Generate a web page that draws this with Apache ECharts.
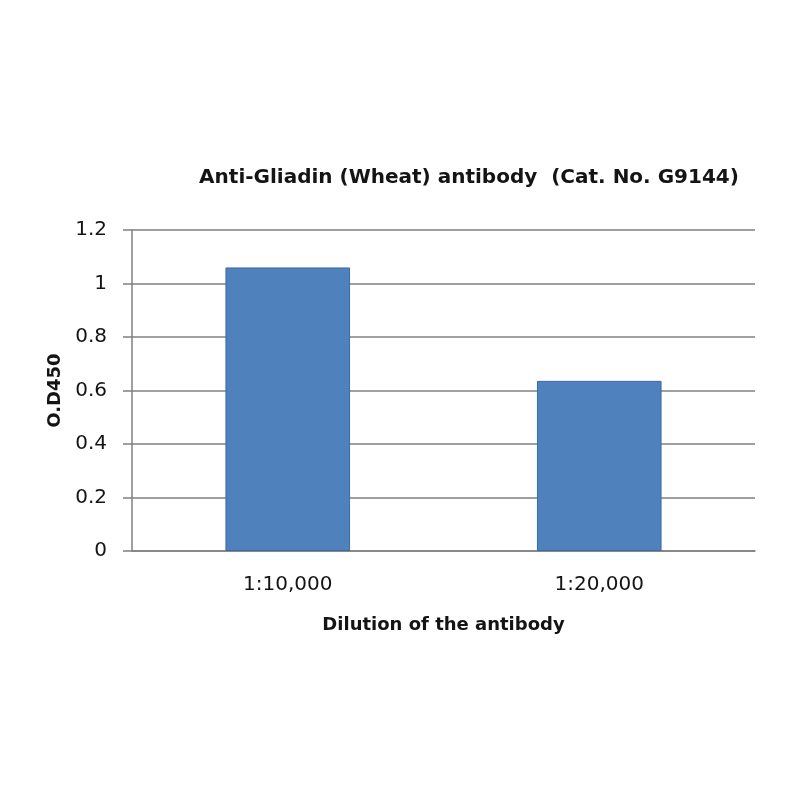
<!DOCTYPE html>
<html><head><meta charset="utf-8">
<script src="https://cdn.jsdelivr.net/npm/echarts@6/dist/echarts.min.js"></script>
<style>html,body{margin:0;padding:0;background:#fff}#c{width:800px;height:800px}</style>
</head><body><div id="c"></div>
<script>
var categories = ['1:10,000', '1:20,000'];
var values = [1.06, 0.636];
var titleText = 'Anti-Gliadin (Wheat) antibody  (Cat. No. G9144)';
var xName = 'Dilution of the antibody';
var yName = 'O.D450';

var chart = echarts.init(document.getElementById('c'));
chart.setOption({
  backgroundColor: '#fff',
  animation: false,
  title: {
    text: titleText, left: 464, top: 163, textAlign: 'center',
    textStyle: {fontFamily: 'DejaVu Sans', fontWeight: 'bold', fontSize: 20, color: '#141414'}
  },
  grid: {left: 132, right: 45, top: 230, bottom: 249},
  xAxis: {
    type: 'category', data: categories,
    name: xName, nameLocation: 'middle', nameGap: 65,
    nameTextStyle: {fontFamily: 'DejaVu Sans', fontWeight: 'bold', fontSize: 18, color: '#141414'},
    axisLine: {lineStyle: {color: '#808080', width: 1.5}},
    axisTick: {show: false},
    axisLabel: {margin: 24, fontFamily: 'DejaVu Sans', fontSize: 20, color: '#141414'}
  },
  yAxis: {
    type: 'value', min: 0, max: 1.2, interval: 0.2,
    name: yName, nameLocation: 'middle', nameGap: 61,
    nameTextStyle: {fontFamily: 'DejaVu Sans', fontWeight: 'bold', fontSize: 18, color: '#141414'},
    axisLine: {show: true, lineStyle: {color: '#808080', width: 1.5}},
    axisTick: {show: true, length: 9, lineStyle: {color: '#808080', width: 1.5}},
    axisLabel: {margin: 25, fontFamily: 'DejaVu Sans', fontSize: 20, color: '#141414',
      formatter: function(v){ return String(Math.round(v*10)/10); }},
    splitLine: {lineStyle: {color: '#808080', width: 1.5}}
  },
  series: [{
    type: 'bar', data: values, barWidth: '40%',
    itemStyle: {color: '#4F81BD', borderColor: '#3A6BA5', borderWidth: 1}
  }]
});
</script></body></html>
